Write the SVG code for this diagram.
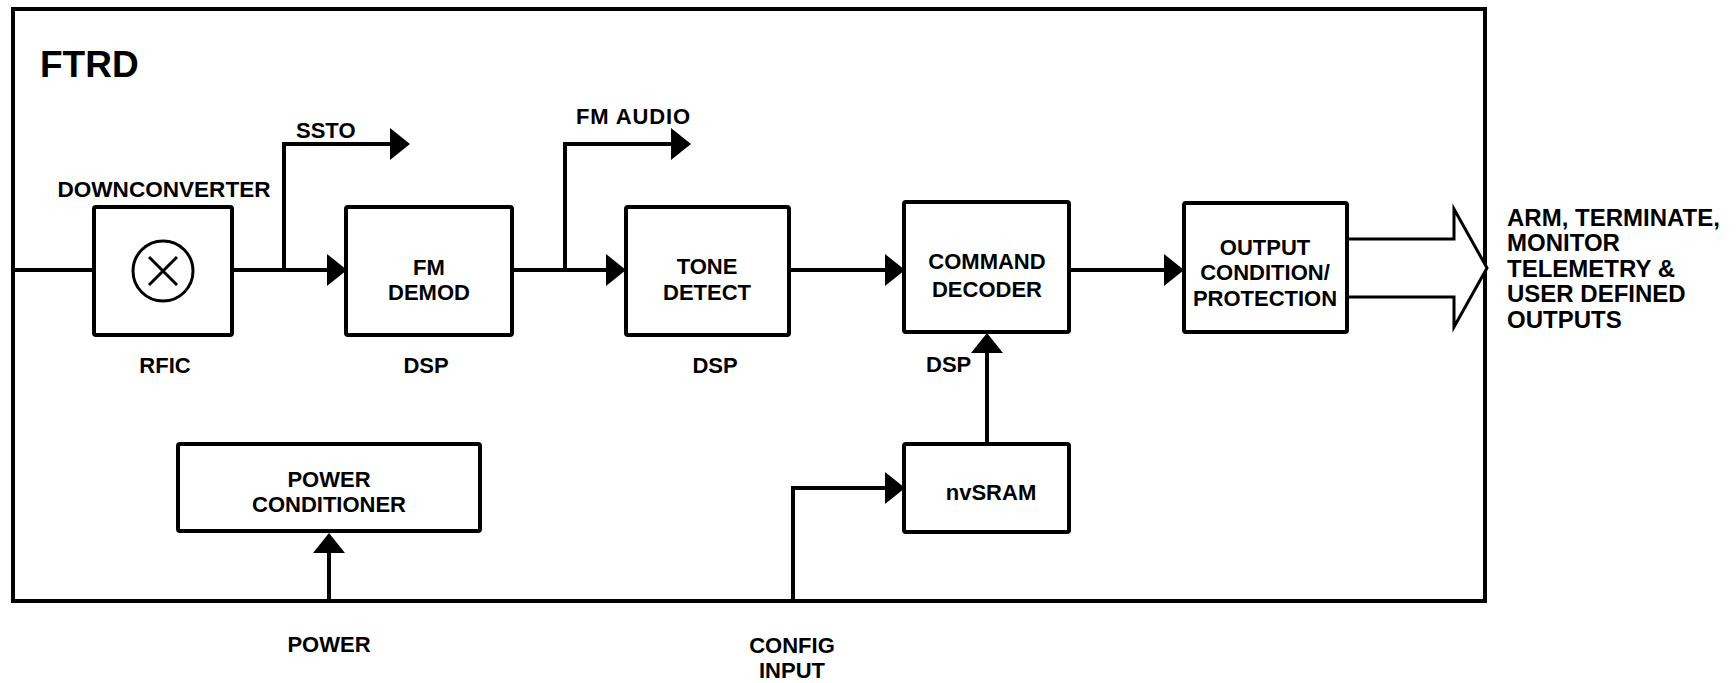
<svg xmlns="http://www.w3.org/2000/svg" width="1736" height="683" viewBox="0 0 1736 683">
<style>
text{font-family:"Liberation Sans",Arial,sans-serif;font-weight:bold;font-size:22px;fill:#000}
.c{text-anchor:middle}
.box{fill:#fff;stroke:#000;stroke-width:4}
.ln{fill:none;stroke:#000;stroke-width:4}
.big{font-size:37px}
.rt{font-size:24px}
</style>
<defs>
<marker id="ah" viewBox="0 0 20 32" refX="0" refY="16" markerWidth="20" markerHeight="32" markerUnits="userSpaceOnUse" orient="auto">
<path d="M0,0 L20,16 L0,32 z" fill="#000"/>
</marker>
</defs>
<rect id="frame" x="13" y="9" width="1472" height="592" fill="none" stroke="#000" stroke-width="4"/>
<text class="big" x="40" y="77">FTRD</text>
<g id="connectors">
<path class="ln" d="M13,270 H94"/>
<path class="ln" d="M232,270 H327" marker-end="url(#ah)"/>
<path class="ln" d="M284,270 V144 H390" marker-end="url(#ah)"/>
<path class="ln" d="M512,270 H606" marker-end="url(#ah)"/>
<path class="ln" d="M565,270 V144 H671" marker-end="url(#ah)"/>
<path class="ln" d="M789,270 H885" marker-end="url(#ah)"/>
<path class="ln" d="M1069,270 H1164" marker-end="url(#ah)"/>
<path class="ln" d="M987,444 V353" marker-end="url(#ah)"/>
<path class="ln" d="M329,601 V553" marker-end="url(#ah)"/>
<path class="ln" d="M793,601 V488 H885" marker-end="url(#ah)"/>
<path d="M1347,239 H1454 V209 L1487,268 L1454,327 V297 H1347" fill="#fff" stroke="#000" stroke-width="3" stroke-linejoin="miter"/>
</g>
<g id="downconverter">
<text class="c" x="164" y="197" textLength="213" lengthAdjust="spacingAndGlyphs">DOWNCONVERTER</text>
<rect class="box" x="94" y="207" width="138" height="128" rx="2"/>
<circle cx="163" cy="271" r="30" fill="none" stroke="#000" stroke-width="3"/>
<path d="M149,257 L177,285 M177,257 L149,285" stroke="#000" stroke-width="3"/>
<text class="c" x="165" y="373">RFIC</text>
</g>
<g id="ssto"><text x="296" y="138">SSTO</text></g>
<g id="fmaudio"><text x="576" y="124" textLength="114" lengthAdjust="spacing">FM AUDIO</text></g>
<g id="fmdemod">
<rect class="box" x="346" y="207" width="166" height="128" rx="2"/>
<text class="c" x="429" y="275">FM</text>
<text class="c" x="429" y="300">DEMOD</text>
<text class="c" x="426" y="373">DSP</text>
</g>
<g id="tonedetect">
<rect class="box" x="626" y="207" width="163" height="128" rx="2"/>
<text class="c" x="707" y="274">TONE</text>
<text class="c" x="707" y="300">DETECT</text>
<text class="c" x="715" y="373">DSP</text>
</g>
<g id="cmddecoder">
<rect class="box" x="904" y="202" width="165" height="130" rx="2"/>
<text class="c" x="987" y="269">COMMAND</text>
<text class="c" x="987" y="297">DECODER</text>
<text x="926" y="372">DSP</text>
</g>
<g id="output">
<rect class="box" x="1184" y="203" width="163" height="129" rx="2"/>
<text class="c" x="1265" y="255">OUTPUT</text>
<text class="c" x="1265" y="280">CONDITION/</text>
<text class="c" x="1265" y="306">PROTECTION</text>
</g>
<g id="outputs">
<text class="rt" x="1507" y="226">ARM, TERMINATE,</text>
<text class="rt" x="1507" y="251">MONITOR</text>
<text class="rt" x="1507" y="277">TELEMETRY &amp;</text>
<text class="rt" x="1507" y="302">USER DEFINED</text>
<text class="rt" x="1507" y="328">OUTPUTS</text>
</g>
<g id="powercond">
<rect class="box" x="178" y="444" width="302" height="87" rx="2"/>
<text class="c" x="329" y="487">POWER</text>
<text class="c" x="329" y="512">CONDITIONER</text>
</g>
<g id="power"><text class="c" x="329" y="652">POWER</text></g>
<g id="nvsram">
<rect class="box" x="904" y="444" width="165" height="88" rx="2"/>
<text class="c" x="991" y="500">nvSRAM</text>
</g>
<g id="config">
<text class="c" x="792" y="653">CONFIG</text>
<text class="c" x="792" y="678">INPUT</text>
</g>
</svg>
